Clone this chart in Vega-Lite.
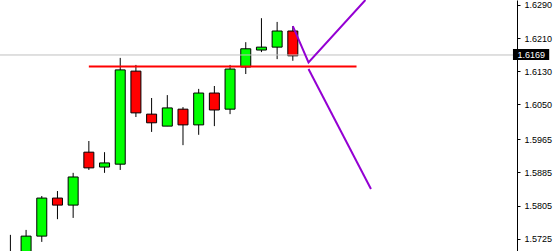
{
  "$schema": "https://vega.github.io/schema/vega-lite/v6.json",
  "width": 517,
  "height": 251,
  "autosize": {"type": "none"},
  "padding": {"left": 0, "top": 0, "right": 41, "bottom": 0},
  "background": "white",
  "config": {
    "view": {"stroke": null},
    "axis": {"labelOverlap": false, "labelFlush": false, "labelBound": false}
  },
  "data": {"values": [
      {"i": 0, "open": 1.5688, "close": 1.5680, "high": 1.5734, "low": 1.5670, "dir": "up"},
      {"i": 1, "open": 1.5685, "close": 1.5731, "high": 1.5746, "low": 1.5675, "dir": "up"},
      {"i": 2, "open": 1.5731, "close": 1.5823, "high": 1.5828, "low": 1.5717, "dir": "up"},
      {"i": 3, "open": 1.5823, "close": 1.5806, "high": 1.5840, "low": 1.5772, "dir": "down"},
      {"i": 4, "open": 1.5806, "close": 1.5874, "high": 1.5884, "low": 1.5775, "dir": "up"},
      {"i": 5, "open": 1.5934, "close": 1.5896, "high": 1.5961, "low": 1.5891, "dir": "down"},
      {"i": 6, "open": 1.5898, "close": 1.5908, "high": 1.5934, "low": 1.5884, "dir": "up"},
      {"i": 7, "open": 1.5905, "close": 1.6133, "high": 1.6162, "low": 1.5891, "dir": "up"},
      {"i": 8, "open": 1.6130, "close": 1.6029, "high": 1.6145, "low": 1.6019, "dir": "down"},
      {"i": 9, "open": 1.6026, "close": 1.6005, "high": 1.6065, "low": 1.5983, "dir": "down"},
      {"i": 10, "open": 1.5997, "close": 1.6041, "high": 1.6072, "low": 1.5997, "dir": "up"},
      {"i": 11, "open": 1.6038, "close": 1.6000, "high": 1.6043, "low": 1.5951, "dir": "down"},
      {"i": 12, "open": 1.6000, "close": 1.6077, "high": 1.6087, "low": 1.5976, "dir": "up"},
      {"i": 13, "open": 1.6077, "close": 1.6036, "high": 1.6094, "low": 1.5997, "dir": "down"},
      {"i": 14, "open": 1.6038, "close": 1.6135, "high": 1.6145, "low": 1.6026, "dir": "up"},
      {"i": 15, "open": 1.6140, "close": 1.6184, "high": 1.6200, "low": 1.6123, "dir": "up"},
      {"i": 16, "open": 1.6181, "close": 1.6188, "high": 1.6258, "low": 1.6176, "dir": "up"},
      {"i": 17, "open": 1.6188, "close": 1.6227, "high": 1.6249, "low": 1.6159, "dir": "up"},
      {"i": 18, "open": 1.6227, "close": 1.6167, "high": 1.6239, "low": 1.6155, "dir": "down"}
  ]},
  "layer": [
    {
      "mark": {"type": "rule", "color": "black", "strokeWidth": 1, "clip": true},
      "encoding": {
        "x": {"field": "i", "type": "quantitative", "scale": {"domain": [-0.34375, 31.96875], "nice": false, "zero": false}, "axis": null},
        "y": {"field": "low", "type": "quantitative", "scale": {"domain": [1.5695, 1.6302], "nice": false, "zero": false}, "axis": {
          "orient": "right",
          "values": [1.6290, 1.6210, 1.6130, 1.6050, 1.5965, 1.5885, 1.5805, 1.5725],
          "tickCount": 20,
          "format": ".4f",
          "grid": false,
          "title": null,
          "domainColor": "black",
          "tickColor": "black",
          "tickSize": 3,
          "labelPadding": 4,
          "labelFont": "Liberation Sans",
          "labelFontSize": 9,
          "labelColor": "black",
          "labelFlush": false,
          "labelOverlap": false,
          "labelBound": false
        }},
        "y2": {"field": "high"}
      }
    },
    {
      "mark": {"type": "bar", "width": 10, "stroke": "black", "strokeWidth": 1, "clip": true},
      "encoding": {
        "x": {"field": "i", "type": "quantitative"},
        "y": {"field": "open", "type": "quantitative"},
        "y2": {"field": "close"},
        "color": {"field": "dir", "type": "nominal", "scale": {"domain": ["up", "down"], "range": ["#00ff00", "#ff0000"]}, "legend": null}
      }
    },
    {
      "data": {"values": [{"p": 1.6169}]},
      "mark": {"type": "rule", "color": "#c0c0c0", "strokeWidth": 1},
      "encoding": {
        "y": {"field": "p", "type": "quantitative"}
      }
    },
    {
      "data": {"values": [{"x1": 5, "x2": 22.06, "p": 1.6141}]},
      "mark": {"type": "rule", "color": "#ff0000", "strokeWidth": 2, "clip": true},
      "encoding": {
        "x": {"field": "x1", "type": "quantitative"},
        "x2": {"field": "x2"},
        "y": {"field": "p", "type": "quantitative"}
      }
    },
    {
      "data": {"values": [
        {"seg": "a", "k": 0, "i": 18, "p": 1.6239},
        {"seg": "a", "k": 1, "i": 19, "p": 1.6151},
        {"seg": "a", "k": 2, "i": 22.625, "p": 1.6302},
        {"seg": "b", "k": 0, "i": 19, "p": 1.6135},
        {"seg": "b", "k": 1, "i": 22.98, "p": 1.5845}
      ]},
      "mark": {"type": "line", "color": "#9400d3", "strokeWidth": 2, "clip": true},
      "encoding": {
        "x": {"field": "i", "type": "quantitative"},
        "y": {"field": "p", "type": "quantitative"},
        "detail": {"field": "seg", "type": "nominal"},
        "order": {"field": "k", "type": "quantitative"}
      }
    },
    {
      "data": {"values": [{"x1": 32.03, "x2": 34.34, "p1": 1.61835, "p2": 1.61569}]},
      "mark": {"type": "rect", "color": "black", "clip": false},
      "encoding": {
        "x": {"field": "x1", "type": "quantitative"},
        "x2": {"field": "x2"},
        "y": {"field": "p1", "type": "quantitative"},
        "y2": {"field": "p2"}
      }
    },
    {
      "data": {"values": [{"x": 33.2, "p": 1.6169, "t": "1.6169"}]},
      "mark": {"type": "text", "color": "white", "font": "Liberation Sans", "fontSize": 9, "align": "center", "baseline": "middle", "clip": false},
      "encoding": {
        "x": {"field": "x", "type": "quantitative"},
        "y": {"field": "p", "type": "quantitative"},
        "text": {"field": "t", "type": "nominal"}
      }
    }
  ]
}
